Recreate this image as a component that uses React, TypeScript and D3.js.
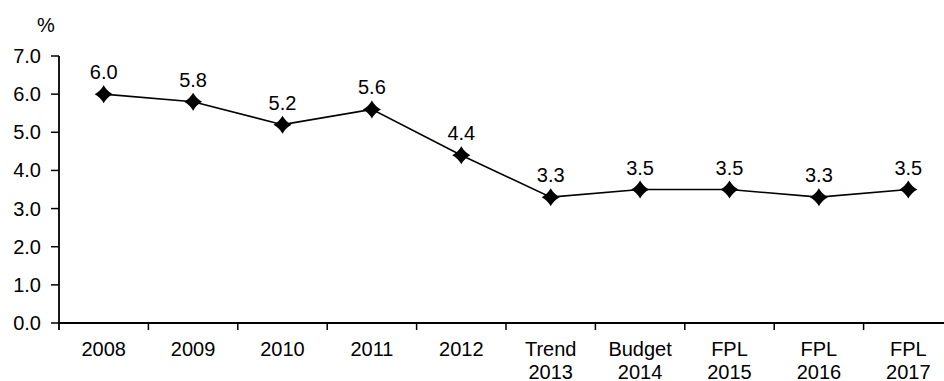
import React from "react";
import * as d3 from "d3";

const categories: string[][] = [
  ["2008"], ["2009"], ["2010"], ["2011"], ["2012"],
  ["Trend", "2013"], ["Budget", "2014"], ["FPL", "2015"], ["FPL", "2016"], ["FPL", "2017"],
];
const values: number[] = [6.0, 5.8, 5.2, 5.6, 4.4, 3.3, 3.5, 3.5, 3.3, 3.5];
const yTicks: number[] = [0, 1, 2, 3, 4, 5, 6, 7];
const yUnit = "%";

const W = 944;
const H = 381;
const FONT = "'Liberation Sans', Arial, sans-serif";
const FS = 20;

export default function App() {
  const keys = categories.map((c) => c.join(" "));
  const x = d3.scaleBand<string>().domain(keys).range([59, 953]).padding(0);
  const y = d3.scaleLinear().domain([0, 7]).range([323, 56]);
  const bw = x.bandwidth();
  const cx = (i: number) => (x(keys[i]) as number) + bw / 2;

  const line = d3
    .line<number>()
    .x((_, i) => cx(i))
    .y((d) => y(d));

  const r = 9;
  const k = 3.2;
  const diamond = `M0,${-r} Q${k},${-k} ${r},0 Q${k},${k} 0,${r} Q${-k},${k} ${-r},0 Q${-k},${-k} 0,${-r} Z`;

  const x0 = x.range()[0];
  const y0 = y(0);

  return (
    <svg width={W} height={H} style={{ position: "absolute", left: 0, top: 0 }} fontFamily={FONT}>
      <rect width={W} height={H} fill="#fff" />
      <line x1={x0} x2={x0} y1={y(7)} y2={y0 + 7} stroke="#000" strokeWidth={1.8} />
      {yTicks.map((t) => (
        <g key={t}>
          <line x1={x0 - 8} x2={x0} y1={y(t)} y2={y(t)} stroke="#000" strokeWidth={1.5} />
          <text x={41} y={y(t)} dy="0.35em" textAnchor="end" fontSize={FS} fill="#000">
            {t.toFixed(1)}
          </text>
        </g>
      ))}
      <text x={46} y={32} textAnchor="middle" fontSize={FS} fill="#000">{yUnit}</text>
      <line x1={x0} x2={W} y1={y0} y2={y0} stroke="#000" strokeWidth={1.8} />
      {keys.map((k2, i) => (
        <line key={"t" + i} x1={(x(k2) as number) + bw} x2={(x(k2) as number) + bw} y1={y0} y2={y0 + 7} stroke="#000" strokeWidth={1.5} />
      ))}
      {categories.map((c, i) => (
        <text key={"c" + i} x={cx(i)} y={356} textAnchor="middle" fontSize={FS} fill="#000">
          {c.map((s, j) => (
            <tspan key={j} x={cx(i)} dy={j === 0 ? 0 : 22.5}>{s}</tspan>
          ))}
        </text>
      ))}
      <path d={line(values) || ""} fill="none" stroke="#000" strokeWidth={1.6} />
      {values.map((v, i) => (
        <path key={"m" + i} d={diamond} transform={`translate(${cx(i)},${y(v)})`} fill="#000" />
      ))}
      {values.map((v, i) => (
        <text key={"l" + i} x={cx(i)} y={y(v) - 15} textAnchor="middle" fontSize={FS} fill="#000">
          {v.toFixed(1)}
        </text>
      ))}
    </svg>
  );
}
